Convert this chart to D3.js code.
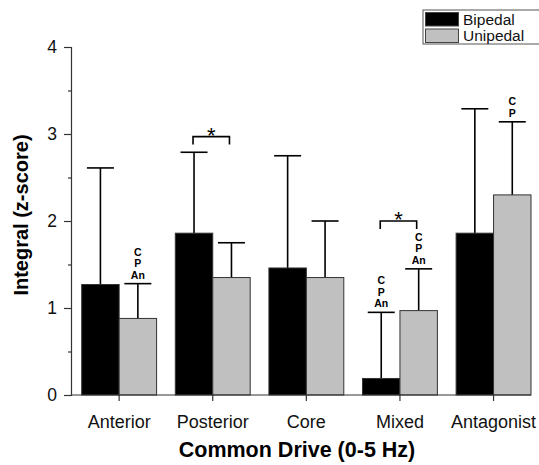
<!DOCTYPE html>
<html>
<head>
<meta charset="utf-8">
<script src="https://cdn.jsdelivr.net/npm/d3@7"></script>
<style>
  body { margin: 0; background: #fff; }
  svg { display: block; font-family: "Liberation Sans", Arial, sans-serif; }
</style>
</head>
<body>
<script>
// data
var categories = ["Anterior", "Posterior", "Core", "Mixed", "Antagonist"];
var bipedal = [1.27, 1.86, 1.46, 0.19, 1.86];
var bipedalErr = [2.61, 2.79, 2.75, 0.95, 3.29];
var unipedal = [0.88, 1.35, 1.35, 0.97, 2.30];
var unipedalErr = [1.28, 1.75, 2.00, 1.45, 3.14];
// letters above error bars (series, category, labels)
var notes = [
  { s: "Unipedal", c: "Anterior", lines: ["C", "P", "An"] },
  { s: "Bipedal", c: "Mixed", lines: ["C", "P", "An"] },
  { s: "Unipedal", c: "Mixed", lines: ["C", "P", "An"] },
  { s: "Unipedal", c: "Antagonist", lines: ["C", "P"] }
];
var sigPairs = [{ c: "Posterior", y: 2.97 }, { c: "Mixed", y: 2.0 }];
var yTicks = [0, 1, 2, 3, 4];

var width = 539, height = 465;
var margin = { left: 71, right: 8, top: 47, bottom: 70 };

var svg = d3.select("body").append("svg")
  .attr("width", width)
  .attr("height", height);

var x = d3.scaleBand()
  .domain(categories)
  .range([81.7, width - margin.right])
  .paddingInner(0.2)
  .paddingOuter(0);

var series = ["Bipedal", "Unipedal"];
var xs = d3.scaleBand().domain(series).range([0, x.bandwidth()]);

var y = d3.scaleLinear().domain([0, 4]).range([height - margin.bottom, margin.top]);

var color = { Bipedal: "#000000", Unipedal: "#c0c0c0" };

var rows = [];
categories.forEach(function (c, i) {
  rows.push({ s: "Bipedal", c: c, v: bipedal[i], e: bipedalErr[i] });
  rows.push({ s: "Unipedal", c: c, v: unipedal[i], e: unipedalErr[i] });
});

function cx(d) { return x(d.c) + xs(d.s) + xs.bandwidth() / 2; }

// error bars (drawn first, bars cover the lower part)
var err = svg.append("g").attr("stroke", "#000").attr("stroke-width", 1.6);
err.selectAll(".stem").data(rows).enter().append("line")
  .attr("x1", cx).attr("x2", cx)
  .attr("y1", function (d) { return y(d.v); })
  .attr("y2", function (d) { return y(d.e); });
err.selectAll(".cap").data(rows).enter().append("line")
  .attr("x1", function (d) { return cx(d) - 13.5; })
  .attr("x2", function (d) { return cx(d) + 13.5; })
  .attr("y1", function (d) { return y(d.e); })
  .attr("y2", function (d) { return y(d.e); });

// bars
svg.append("g").selectAll("rect").data(rows).enter().append("rect")
  .attr("x", function (d) { return x(d.c) + xs(d.s); })
  .attr("y", function (d) { return y(d.v); })
  .attr("width", xs.bandwidth())
  .attr("height", function (d) { return y(0) - y(d.v); })
  .attr("fill", function (d) { return color[d.s]; })
  .attr("stroke", "#333")
  .attr("stroke-width", 1);

// axes
var yAxis = svg.append("g")
  .attr("transform", "translate(" + margin.left + ",0)")
  .call(d3.axisLeft(y).tickValues(yTicks).tickSize(7).tickPadding(7).tickFormat(d3.format("d")));
yAxis.select(".domain").attr("stroke", "#333").attr("stroke-width", 1.2);
yAxis.selectAll(".tick line").attr("stroke", "#333").attr("stroke-width", 1.2);
yAxis.selectAll("text").attr("font-size", 17.5).attr("fill", "#111");

var minor = svg.append("g")
  .attr("transform", "translate(" + margin.left + ",0)")
  .call(d3.axisLeft(y).tickValues([0.5, 1.5, 2.5, 3.5]).tickSize(3).tickFormat(""));
minor.select(".domain").remove();
minor.selectAll("line").attr("stroke", "#333").attr("stroke-width", 1.2);

var xAxis = svg.append("g")
  .attr("transform", "translate(0," + y(0) + ")")
  .call(d3.axisBottom(x).tickSize(6).tickSizeOuter(0).tickPadding(14));
xAxis.select(".domain").attr("stroke", "#333").attr("stroke-width", 1.2)
  .attr("d", "M" + margin.left + ",0H" + (x(categories[4]) + x.bandwidth()));
xAxis.selectAll(".tick line").attr("stroke", "#333").attr("stroke-width", 1.2);
xAxis.selectAll("text").attr("font-size", 18).attr("fill", "#111");

// axis titles
svg.append("text")
  .attr("x", 297).attr("y", 457)
  .attr("text-anchor", "middle")
  .attr("font-size", 21.5).attr("font-weight", "bold")
  .text("Common Drive (0-5 Hz)");

svg.append("text")
  .attr("transform", "translate(28,215) rotate(-90)")
  .attr("text-anchor", "middle")
  .attr("font-size", 20).attr("font-weight", "bold")
  .text("Integral (z-score)");

// letter notes
var lookup = {};
rows.forEach(function (d) { lookup[d.s + d.c] = d; });
notes.forEach(function (n) {
  var d = lookup[n.s + n.c];
  var base = y(d.e) - 5;
  var k = n.lines.length;
  n.lines.forEach(function (t, j) {
    svg.append("text")
      .attr("x", cx(d)).attr("y", base - (k - 1 - j) * 11.5)
      .attr("text-anchor", "middle")
      .attr("font-size", 10.5).attr("font-weight", "bold")
      .text(t);
  });
});

// significance brackets
sigPairs.forEach(function (p) {
  var x1 = cx({ s: "Bipedal", c: p.c }) - 1, x2 = cx({ s: "Unipedal", c: p.c }) - 2;
  var yy = y(p.y);
  svg.append("path")
    .attr("d", "M" + x1 + "," + (yy + 8) + "V" + yy + "H" + x2 + "V" + (yy + 8))
    .attr("fill", "none").attr("stroke", "#000").attr("stroke-width", 1.6);
  svg.append("text")
    .attr("x", (x1 + x2) / 2).attr("y", yy + 6)
    .attr("text-anchor", "middle")
    .attr("font-size", 22)
    .text("*");
});

// legend
var lg = svg.append("g").attr("transform", "translate(423,10)");
lg.append("rect").attr("width", 120).attr("height", 34)
  .attr("fill", "#fff").attr("stroke", "#555").attr("stroke-width", 1);
series.forEach(function (s, i) {
  lg.append("rect")
    .attr("x", 2.5).attr("y", 2.5 + i * 16.5)
    .attr("width", 33).attr("height", 13.5)
    .attr("fill", color[s]).attr("stroke", "#444").attr("stroke-width", 1);
  lg.append("text")
    .attr("x", 40).attr("y", 14.5 + i * 16.5)
    .attr("font-size", 15.5).attr("fill", "#111")
    .text(s);
});
</script>
</body>
</html>
